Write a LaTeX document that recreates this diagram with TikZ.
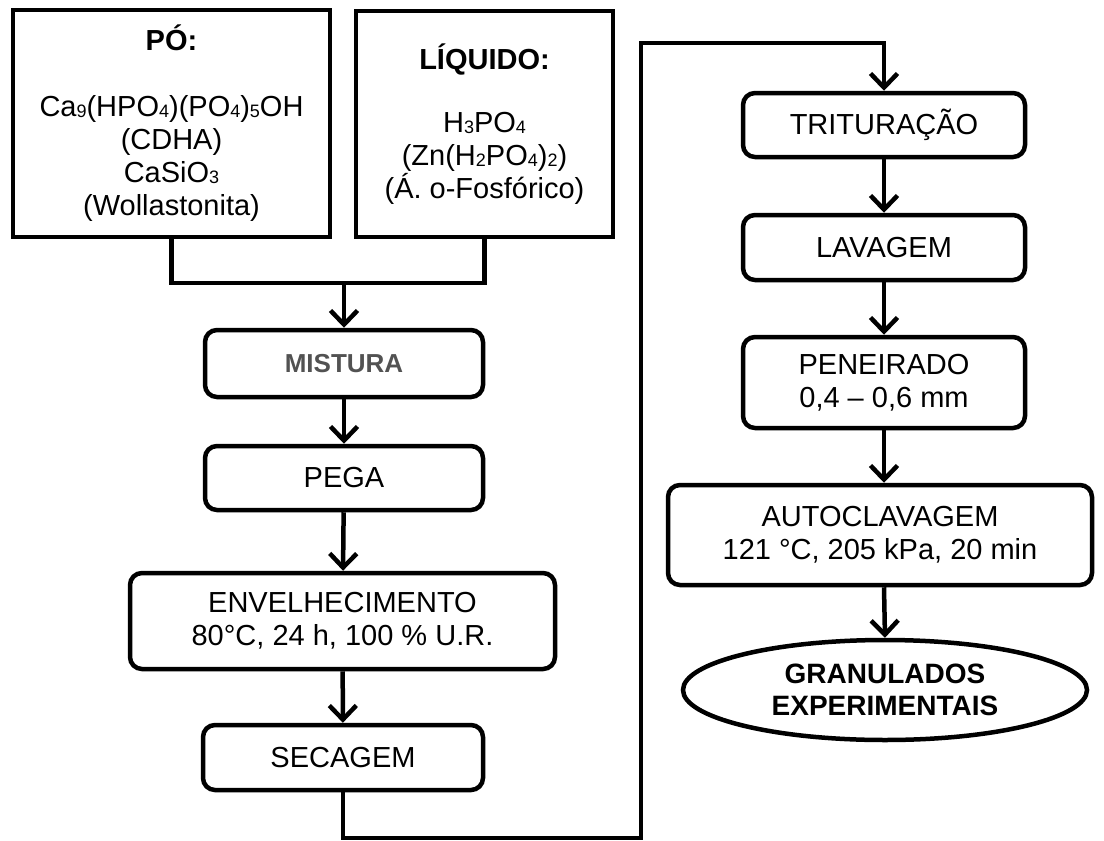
\documentclass[tikz,border=0pt]{standalone}
\usepackage{fontspec}
\setmainfont{Liberation Sans}
\usetikzlibrary{arrows.meta,shapes.geometric}
\newcommand\sbs[1]{\raisebox{-1pt}{\fontsize{18}{18}\selectfont #1}}
\definecolor{mixgray}{HTML}{525252}
\tikzset{
  box/.style={draw,line width=4.5pt,inner sep=0pt,align=center,font=\fontsize{29}{33}\selectfont},
  proc/.style={box,rounded corners=12pt},
  conn/.style={line width=4.5pt},
  arr/.style={conn,-{Straight Barb[length=14pt,width=27pt]}},
}
\begin{document}
\begin{tikzpicture}[x=1pt,y=-1pt]
\useasboundingbox (0,0) rectangle (1104,841);
\node[box,minimum width=317pt,minimum height=227pt] (po) at (171.5,123.5)
  {\textbf{PÓ:}\\[33pt]Ca\sbs{9}(HPO\sbs{4})(PO\sbs{4})\sbs{5}OH\\(CDHA)\\CaSiO\sbs{3}\\(Wollastonita)};
\node[box,minimum width=257pt,minimum height=226pt] (liq) at (484.5,124)
  {\textbf{LÍQUIDO:}\\[30pt]H\sbs{3}PO\sbs{4}\\(Zn(H\sbs{2}PO\sbs{4})\sbs{2})\\(Á. o-Fosfórico)};
\node[proc,minimum width=278pt,minimum height=67pt,text=mixgray,font=\fontsize{26}{30}\bfseries\selectfont] (mis) at (344,363.5) {MISTURA};
\node[proc,minimum width=278pt,minimum height=64pt] (peg) at (344,478) {PEGA};
\node[proc,minimum width=425pt,minimum height=96pt] (env) at (342.5,621) {ENVELHECIMENTO\\80°C, 24 h, 100 \% U.R.};
\node[proc,minimum width=280pt,minimum height=65pt] (sec) at (343,757.5) {SECAGEM};
\node[proc,minimum width=282pt,minimum height=64pt] (tri) at (884,125) {TRITURAÇÃO};
\node[proc,minimum width=282pt,minimum height=65pt] (lav) at (884,247.5) {LAVAGEM};
\node[proc,minimum width=282pt,minimum height=91pt] (pen) at (884,382.5) {PENEIRADO\\0,4 – 0,6 mm};
\node[proc,minimum width=424pt,minimum height=100pt] (aut) at (880,535) {AUTOCLAVAGEM\\121 °C, 205 kPa, 20 min};
\node[box,ellipse,minimum width=404pt,minimum height=100pt,font=\fontsize{28}{32}\bfseries\selectfont] (gra) at (885,690) {GRANULADOS\\EXPERIMENTAIS};
\coordinate (j) at (344,283);
\coordinate (b1) at (343,838);
\coordinate (b2) at (641,838);
\coordinate (t1) at (641,43);
\coordinate (t2) at (884,43);
\draw[conn] (po.south) |- (j);
\draw[conn] (liq.south) |- (j);
\draw[arr] (j) -- (mis);
\draw[arr] (mis) -- (peg);
\draw[arr] (peg) -- (env);
\draw[arr] (env) -- (sec);
\draw[arr,line join=miter] (sec.south) -- (b1) -- (b2) -- (t1) -- (t2) -- (tri.north);
\draw[arr] (tri) -- (lav);
\draw[arr] (lav) -- (pen);
\draw[arr] (pen) -- (pen.south |- aut.north);
\draw[arr] (pen.south |- aut.south) -- (gra.north);
\end{tikzpicture}
\end{document}
